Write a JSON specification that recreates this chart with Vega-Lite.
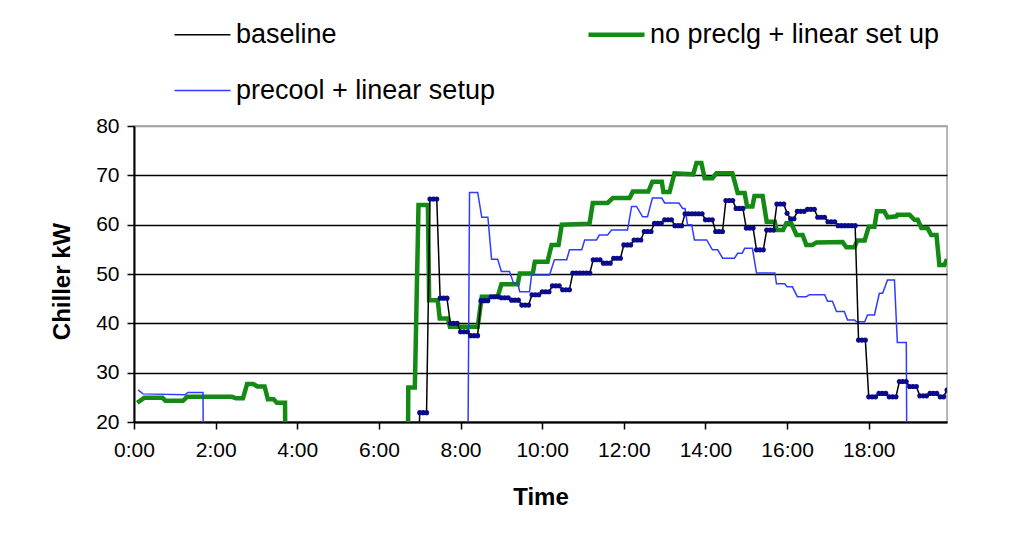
{
  "$schema": "https://vega.github.io/schema/vega-lite/v6.json",
  "width": 813,
  "height": 296,
  "autosize": {"type": "none"},
  "padding": {"left": 134, "top": 126, "right": 76, "bottom": 122},
  "background": "white",
  "config": {
    "font": "Liberation Sans",
    "view": {"stroke": "#a0a0a0", "strokeWidth": 1.5}
  },
  "datasets": {
    "green": [
      {"t": 0.08, "kw": 23.9}, {"t": 0.25, "kw": 24.9}, {"t": 0.7, "kw": 24.9}, {"t": 0.77, "kw": 24.3}, {"t": 1.2, "kw": 24.3},
      {"t": 1.3, "kw": 25.1}, {"t": 2.4, "kw": 25.1}, {"t": 2.5, "kw": 24.8}, {"t": 2.67, "kw": 24.8}, {"t": 2.77, "kw": 27.7},
      {"t": 2.92, "kw": 27.7}, {"t": 3.02, "kw": 27.2}, {"t": 3.2, "kw": 27.2}, {"t": 3.28, "kw": 24.6}, {"t": 3.42, "kw": 24.6},
      {"t": 3.5, "kw": 23.9}, {"t": 3.7, "kw": 23.9}, {"t": 3.72, "kw": 0}, {"t": 6.7, "kw": 0}, {"t": 6.72, "kw": 27.0},
      {"t": 6.88, "kw": 27.0}, {"t": 6.97, "kw": 64.0}, {"t": 7.2, "kw": 64.0}, {"t": 7.23, "kw": 44.7}, {"t": 7.44, "kw": 44.7},
      {"t": 7.49, "kw": 41.0}, {"t": 7.69, "kw": 41.0}, {"t": 7.74, "kw": 39.3}, {"t": 8.42, "kw": 39.3}, {"t": 8.52, "kw": 45.4},
      {"t": 8.91, "kw": 45.4}, {"t": 9.0, "kw": 47.9}, {"t": 9.4, "kw": 47.9}, {"t": 9.45, "kw": 50.1}, {"t": 9.77, "kw": 50.1},
      {"t": 9.82, "kw": 52.5}, {"t": 10.13, "kw": 52.5}, {"t": 10.23, "kw": 55.9}, {"t": 10.4, "kw": 55.9}, {"t": 10.48, "kw": 60.0},
      {"t": 11.16, "kw": 60.2}, {"t": 11.24, "kw": 64.4}, {"t": 11.6, "kw": 64.4}, {"t": 11.73, "kw": 65.4}, {"t": 12.14, "kw": 65.4},
      {"t": 12.22, "kw": 66.7}, {"t": 12.6, "kw": 66.7}, {"t": 12.7, "kw": 68.7}, {"t": 12.93, "kw": 68.7}, {"t": 12.97, "kw": 66.6},
      {"t": 13.12, "kw": 66.6}, {"t": 13.24, "kw": 70.4}, {"t": 13.7, "kw": 70.2}, {"t": 13.78, "kw": 72.5}, {"t": 13.9, "kw": 72.5},
      {"t": 13.98, "kw": 69.4}, {"t": 14.17, "kw": 69.4}, {"t": 14.27, "kw": 70.4}, {"t": 14.66, "kw": 70.4}, {"t": 14.79, "kw": 66.4},
      {"t": 14.96, "kw": 66.4}, {"t": 15.02, "kw": 63.7}, {"t": 15.15, "kw": 63.7}, {"t": 15.2, "kw": 65.8}, {"t": 15.4, "kw": 65.8},
      {"t": 15.5, "kw": 60.6}, {"t": 15.7, "kw": 60.6}, {"t": 15.74, "kw": 58.9}, {"t": 15.9, "kw": 58.9}, {"t": 15.98, "kw": 60.3},
      {"t": 16.1, "kw": 60.3}, {"t": 16.23, "kw": 57.9}, {"t": 16.38, "kw": 57.9}, {"t": 16.47, "kw": 55.9}, {"t": 16.62, "kw": 55.9},
      {"t": 16.72, "kw": 56.4}, {"t": 17.36, "kw": 56.5}, {"t": 17.45, "kw": 55.4}, {"t": 17.65, "kw": 55.4}, {"t": 17.72, "kw": 56.8},
      {"t": 17.9, "kw": 56.8}, {"t": 18.0, "kw": 59.6}, {"t": 18.14, "kw": 59.6}, {"t": 18.2, "kw": 62.7}, {"t": 18.38, "kw": 62.7},
      {"t": 18.46, "kw": 61.5}, {"t": 18.68, "kw": 61.7}, {"t": 18.7, "kw": 62.0}, {"t": 19.0, "kw": 62.0}, {"t": 19.12, "kw": 61.0},
      {"t": 19.2, "kw": 61.0}, {"t": 19.29, "kw": 59.3}, {"t": 19.44, "kw": 59.3}, {"t": 19.53, "kw": 57.9}, {"t": 19.66, "kw": 57.9},
      {"t": 19.73, "kw": 51.8}, {"t": 19.85, "kw": 51.8}, {"t": 19.917, "kw": 53.0}
    ],
    "blue": [
      {"t": 0.1, "kw": 26.5}, {"t": 0.22, "kw": 25.7}, {"t": 1.25, "kw": 25.5}, {"t": 1.32, "kw": 26.0}, {"t": 1.69, "kw": 26.0},
      {"t": 1.71, "kw": 0}, {"t": 8.17, "kw": 0}, {"t": 8.22, "kw": 66.5}, {"t": 8.42, "kw": 66.5}, {"t": 8.52, "kw": 61.5},
      {"t": 8.67, "kw": 61.5}, {"t": 8.76, "kw": 53.0}, {"t": 8.91, "kw": 53.0}, {"t": 9.0, "kw": 50.5}, {"t": 9.2, "kw": 50.5},
      {"t": 9.3, "kw": 48.1}, {"t": 9.4, "kw": 48.1}, {"t": 9.45, "kw": 46.4}, {"t": 9.69, "kw": 46.4}, {"t": 9.74, "kw": 49.8},
      {"t": 10.18, "kw": 49.8}, {"t": 10.3, "kw": 52.9}, {"t": 10.6, "kw": 52.9}, {"t": 10.67, "kw": 54.9}, {"t": 10.97, "kw": 54.9},
      {"t": 11.04, "kw": 56.9}, {"t": 11.33, "kw": 56.9}, {"t": 11.4, "kw": 57.9}, {"t": 11.6, "kw": 57.9}, {"t": 11.7, "kw": 58.9},
      {"t": 12.09, "kw": 58.9}, {"t": 12.19, "kw": 63.7}, {"t": 12.31, "kw": 63.7}, {"t": 12.46, "kw": 61.6}, {"t": 12.58, "kw": 61.6},
      {"t": 12.7, "kw": 65.4}, {"t": 12.93, "kw": 65.4}, {"t": 13.0, "kw": 64.4}, {"t": 13.35, "kw": 64.4}, {"t": 13.44, "kw": 63.3},
      {"t": 13.5, "kw": 63.3}, {"t": 13.56, "kw": 60.0}, {"t": 13.66, "kw": 60.0}, {"t": 13.73, "kw": 56.9}, {"t": 14.03, "kw": 56.9},
      {"t": 14.17, "kw": 54.9}, {"t": 14.3, "kw": 54.9}, {"t": 14.42, "kw": 53.2}, {"t": 14.71, "kw": 53.2}, {"t": 14.79, "kw": 54.2},
      {"t": 14.9, "kw": 54.2}, {"t": 14.96, "kw": 55.2}, {"t": 15.15, "kw": 55.2}, {"t": 15.25, "kw": 50.2}, {"t": 15.7, "kw": 50.2},
      {"t": 15.74, "kw": 48.0}, {"t": 15.94, "kw": 48.0}, {"t": 16.0, "kw": 47.4}, {"t": 16.13, "kw": 47.4}, {"t": 16.25, "kw": 45.4},
      {"t": 16.47, "kw": 45.4}, {"t": 16.55, "kw": 45.8}, {"t": 16.92, "kw": 45.8}, {"t": 16.99, "kw": 44.5}, {"t": 17.11, "kw": 44.5},
      {"t": 17.21, "kw": 42.4}, {"t": 17.4, "kw": 42.4}, {"t": 17.48, "kw": 40.7}, {"t": 17.65, "kw": 40.7}, {"t": 17.7, "kw": 40.3},
      {"t": 17.9, "kw": 40.3}, {"t": 17.97, "kw": 41.7}, {"t": 18.14, "kw": 41.7}, {"t": 18.26, "kw": 46.1}, {"t": 18.34, "kw": 46.1},
      {"t": 18.46, "kw": 48.8}, {"t": 18.63, "kw": 48.8}, {"t": 18.7, "kw": 36.1}, {"t": 18.92, "kw": 36.1}, {"t": 18.94, "kw": 0},
      {"t": 19.917, "kw": 0}
    ],
    "base": [
      {"t": 6.917, "kw": 0}, {"t": 7.0, "kw": 21.9}, {"t": 7.083, "kw": 21.9}, {"t": 7.167, "kw": 21.9},
      {"t": 7.25, "kw": 65.2}, {"t": 7.333, "kw": 65.2}, {"t": 7.417, "kw": 65.2},
      {"t": 7.5, "kw": 45.1}, {"t": 7.583, "kw": 45.1}, {"t": 7.667, "kw": 45.1},
      {"t": 7.75, "kw": 40.0}, {"t": 7.833, "kw": 40.0}, {"t": 7.917, "kw": 40.0},
      {"t": 8.0, "kw": 38.3}, {"t": 8.083, "kw": 38.3}, {"t": 8.167, "kw": 38.3},
      {"t": 8.25, "kw": 37.5}, {"t": 8.333, "kw": 37.5}, {"t": 8.417, "kw": 37.5},
      {"t": 8.5, "kw": 44.6}, {"t": 8.583, "kw": 44.6}, {"t": 8.667, "kw": 44.6},
      {"t": 8.75, "kw": 45.4}, {"t": 8.833, "kw": 45.4}, {"t": 8.917, "kw": 45.4},
      {"t": 9.0, "kw": 45.2}, {"t": 9.083, "kw": 45.2}, {"t": 9.167, "kw": 45.2},
      {"t": 9.25, "kw": 44.7}, {"t": 9.333, "kw": 44.7}, {"t": 9.417, "kw": 44.7},
      {"t": 9.5, "kw": 43.7}, {"t": 9.583, "kw": 43.7}, {"t": 9.667, "kw": 43.7},
      {"t": 9.75, "kw": 45.8}, {"t": 9.833, "kw": 45.8}, {"t": 9.917, "kw": 45.8},
      {"t": 10.0, "kw": 46.4}, {"t": 10.083, "kw": 46.4}, {"t": 10.167, "kw": 46.4},
      {"t": 10.25, "kw": 47.6}, {"t": 10.333, "kw": 47.6}, {"t": 10.417, "kw": 47.6},
      {"t": 10.5, "kw": 46.8}, {"t": 10.583, "kw": 46.8}, {"t": 10.667, "kw": 46.8},
      {"t": 10.75, "kw": 50.2}, {"t": 10.833, "kw": 50.2}, {"t": 10.917, "kw": 50.2},
      {"t": 11.0, "kw": 50.2}, {"t": 11.083, "kw": 50.2}, {"t": 11.167, "kw": 50.2},
      {"t": 11.25, "kw": 52.9}, {"t": 11.333, "kw": 52.9}, {"t": 11.417, "kw": 52.9},
      {"t": 11.5, "kw": 52.2}, {"t": 11.583, "kw": 52.2}, {"t": 11.667, "kw": 52.2},
      {"t": 11.75, "kw": 53.2}, {"t": 11.833, "kw": 53.2}, {"t": 11.917, "kw": 53.2},
      {"t": 12.0, "kw": 55.9}, {"t": 12.083, "kw": 55.9}, {"t": 12.167, "kw": 55.9},
      {"t": 12.25, "kw": 56.9}, {"t": 12.333, "kw": 56.9}, {"t": 12.417, "kw": 56.9},
      {"t": 12.5, "kw": 58.6}, {"t": 12.583, "kw": 58.6}, {"t": 12.667, "kw": 58.6},
      {"t": 12.75, "kw": 60.3}, {"t": 12.833, "kw": 60.3}, {"t": 12.917, "kw": 60.3},
      {"t": 13.0, "kw": 61.0}, {"t": 13.083, "kw": 61.0}, {"t": 13.167, "kw": 61.0},
      {"t": 13.25, "kw": 59.8}, {"t": 13.333, "kw": 59.8}, {"t": 13.417, "kw": 59.8},
      {"t": 13.5, "kw": 62.2}, {"t": 13.583, "kw": 62.2}, {"t": 13.667, "kw": 62.2},
      {"t": 13.75, "kw": 62.2}, {"t": 13.833, "kw": 62.2}, {"t": 13.917, "kw": 62.2},
      {"t": 14.0, "kw": 61.0}, {"t": 14.083, "kw": 61.0}, {"t": 14.167, "kw": 61.0},
      {"t": 14.25, "kw": 58.6}, {"t": 14.333, "kw": 58.6}, {"t": 14.417, "kw": 58.6},
      {"t": 14.5, "kw": 64.9}, {"t": 14.583, "kw": 64.9}, {"t": 14.667, "kw": 64.9},
      {"t": 14.75, "kw": 63.3}, {"t": 14.833, "kw": 63.3}, {"t": 14.917, "kw": 63.3},
      {"t": 15.0, "kw": 59.3}, {"t": 15.083, "kw": 59.3}, {"t": 15.167, "kw": 59.3},
      {"t": 15.25, "kw": 54.9}, {"t": 15.333, "kw": 54.9}, {"t": 15.417, "kw": 54.9},
      {"t": 15.5, "kw": 58.9}, {"t": 15.583, "kw": 58.9}, {"t": 15.667, "kw": 58.9},
      {"t": 15.75, "kw": 64.2}, {"t": 15.833, "kw": 64.2}, {"t": 15.917, "kw": 64.2},
      {"t": 16.0, "kw": 62.3}, {"t": 16.083, "kw": 61.2}, {"t": 16.167, "kw": 61.2},
      {"t": 16.25, "kw": 62.7}, {"t": 16.333, "kw": 62.7}, {"t": 16.417, "kw": 62.7},
      {"t": 16.5, "kw": 63.1}, {"t": 16.583, "kw": 63.1}, {"t": 16.667, "kw": 63.1},
      {"t": 16.75, "kw": 61.5}, {"t": 16.833, "kw": 61.5}, {"t": 16.917, "kw": 61.5},
      {"t": 17.0, "kw": 60.6}, {"t": 17.083, "kw": 60.6}, {"t": 17.167, "kw": 60.6},
      {"t": 17.25, "kw": 59.8}, {"t": 17.333, "kw": 59.8}, {"t": 17.417, "kw": 59.8},
      {"t": 17.5, "kw": 59.8}, {"t": 17.583, "kw": 59.8}, {"t": 17.667, "kw": 59.8},
      {"t": 17.75, "kw": 36.6}, {"t": 17.833, "kw": 36.6}, {"t": 17.917, "kw": 36.6},
      {"t": 18.0, "kw": 25.1}, {"t": 18.083, "kw": 25.1}, {"t": 18.167, "kw": 25.1},
      {"t": 18.25, "kw": 25.8}, {"t": 18.333, "kw": 25.8}, {"t": 18.417, "kw": 25.8},
      {"t": 18.5, "kw": 25.1}, {"t": 18.583, "kw": 25.1}, {"t": 18.667, "kw": 25.1},
      {"t": 18.75, "kw": 28.2}, {"t": 18.833, "kw": 28.2}, {"t": 18.917, "kw": 28.2},
      {"t": 19.0, "kw": 27.2}, {"t": 19.083, "kw": 27.2}, {"t": 19.167, "kw": 27.2},
      {"t": 19.25, "kw": 25.3}, {"t": 19.333, "kw": 25.3}, {"t": 19.417, "kw": 25.3},
      {"t": 19.5, "kw": 25.8}, {"t": 19.583, "kw": 25.8}, {"t": 19.667, "kw": 25.8},
      {"t": 19.75, "kw": 25.1}, {"t": 19.833, "kw": 25.1}, {"t": 19.917, "kw": 26.5}
    ]
  },
  "encoding": {
    "x": {
      "field": "t", "type": "quantitative",
      "scale": {"domain": [0, 19.917], "nice": false, "zero": false},
      "axis": {
        "values": [0, 2, 4, 6, 8, 10, 12, 14, 16, 18],
        "labelExpr": "datum.value + ':00'",
        "title": "Time", "grid": false,
        "domainColor": "black", "domainWidth": 2,
        "tickColor": "black", "tickSize": 7, "tickWidth": 1.5,
        "labelFontSize": 21, "labelPadding": 10, "labelColor": "black",
        "labelFlush": false, "labelOverlap": false,
        "titleFontSize": 24, "titleFontWeight": "bold", "titleColor": "black",
        "titleY": 75, "titleBaseline": "middle"
      }
    },
    "y": {
      "field": "kw", "type": "quantitative",
      "scale": {"domain": [20, 80], "nice": false, "zero": false},
      "axis": {
        "values": [20, 30, 40, 50, 60, 70, 80],
        "title": "Chiller kW", "grid": true,
        "gridColor": {"condition": {"test": "datum.value === 80", "value": "#a0a0a0"}, "value": "black"},
        "gridWidth": 1.5,
        "domainColor": "black", "domainWidth": 2,
        "tickColor": "black", "tickSize": 7, "tickWidth": 1.5,
        "labelFontSize": 21, "labelPadding": 8, "labelColor": "black",
        "labelFlush": false, "labelOverlap": false,
        "titleFontSize": 24, "titleFontWeight": "bold", "titleColor": "black",
        "titleX": -72, "titleY": 155, "titleAngle": -90,
        "titleAlign": "center", "titleBaseline": "middle"
      }
    }
  },
  "layer": [
    {
      "data": {"name": "green"},
      "transform": [{"calculate": "'no preclg + linear set up'", "as": "s"}],
      "mark": {"type": "line", "clip": true, "strokeWidth": 4.5},
      "encoding": {
        "color": {
          "field": "s", "type": "nominal",
          "scale": {"domain": ["baseline", "no preclg + linear set up", "precool + linear setup"], "range": ["#000000", "#138a13", "#2e3cff"]},
          "legend": {
            "orient": "none", "legendX": 35, "legendY": -105, "direction": "horizontal",
            "columns": 2, "columnPadding": 84, "rowPadding": 28, "padding": 0,
            "symbolType": "stroke", "symbolSize": 3136, "symbolOffset": 20,
            "labelFontSize": 27, "labelOffset": 20,
            "labelLimit": 600, "labelColor": "black", "title": null,
            "encode": {
              "symbols": {"update": {"strokeWidth": {"signal": "datum.value === 'no preclg + linear set up' ? 4.5 : 1.5"}}}
            }
          }
        }
      }
    },
    {
      "data": {"name": "blue"},
      "transform": [{"calculate": "'precool + linear setup'", "as": "s"}],
      "mark": {"type": "line", "clip": true, "strokeWidth": 1.5},
      "encoding": {
        "color": {"field": "s", "type": "nominal"}
      }
    },
    {
      "data": {"name": "base"},
      "transform": [{"calculate": "'baseline'", "as": "s"}],
      "mark": {"type": "line", "clip": true, "strokeWidth": 1.5},
      "encoding": {
        "color": {"field": "s", "type": "nominal"}
      }
    },
    {
      "data": {"name": "base"},
      "mark": {"type": "point", "clip": true, "filled": true, "color": "#0a0a8a", "size": 26, "opacity": 1},
      "encoding": {}
    }
  ]
}
